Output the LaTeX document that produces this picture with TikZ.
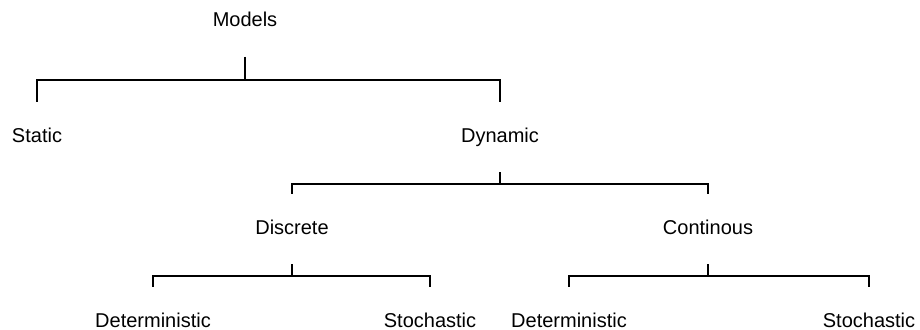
\documentclass[tikz,border=0pt]{standalone}
\usepackage{fontspec}
\setmainfont{Liberation Sans}
\begin{document}
\begin{tikzpicture}[x=1pt, y=-1pt,
    label/.style={anchor=base, inner sep=0pt, outer ysep=26pt, text height=14pt, text depth=4pt,
        font=\fontsize{20}{24}\selectfont},
    leaf/.style={label, text depth=0pt},
    branch/.style={line width=2pt}]
    \useasboundingbox (0,0) rectangle (920,329);
    % Model classification tree
    \node[label] (models) at (245,27) {Models};
    \node[label] (static) at (37,142) {Static};
    \node[label] (dynamic) at (500,142) {Dynamic};
    \node[label] (discrete) at (292,234) {Discrete};
    \node[label] (continous) at (708,234) {Continous};
    \node[leaf] (discdet) at (153,327) {Deterministic};
    \node[leaf] (discsto) at (430,327) {Stochastic};
    \node[leaf] (contdet) at (569,327) {Deterministic};
    \node[leaf] (contsto) at (869,327) {Stochastic};

    \draw[branch] (models.south) -- ++(0,23) -| (static.north);
    \draw[branch] (models.south) -- ++(0,23) -| (dynamic.north);
    \draw[branch] (dynamic.south) -- ++(0,12) -| (discrete.north);
    \draw[branch] (dynamic.south) -- ++(0,12) -| (continous.north);
    \draw[branch] (discrete.south) -- ++(0,12) -| (discdet.north);
    \draw[branch] (discrete.south) -- ++(0,12) -| (discsto.north);
    \draw[branch] (continous.south) -- ++(0,12) -| (contdet.north);
    \draw[branch] (continous.south) -- ++(0,12) -| (contsto.north);
\end{tikzpicture}
\end{document}
